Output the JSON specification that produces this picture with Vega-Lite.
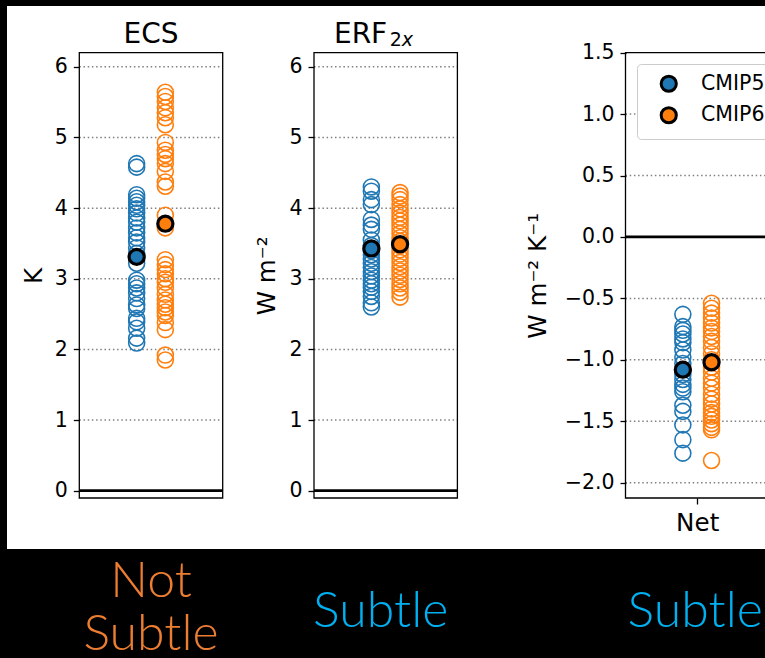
{
  "$schema": "https://vega.github.io/schema/vega-lite/v6.json",
  "width": 758,
  "height": 543,
  "autosize": {"type": "none"},
  "padding": {"left": 7, "top": 6, "right": 0, "bottom": 109},
  "background": "black",
  "config": {
    "view": {"fill": "white", "stroke": null},
    "axis": {
      "labelFont": "DejaVu Sans", "titleFont": "DejaVu Sans", "labelColor": "black", "titleColor": "black",
      "tickColor": "black", "titleFontWeight": "normal", "labelFlush": false, "labelOverlap": false, "labelBound": false
    },
    "legend": {"labelFont": "DejaVu Sans"}
  },
  "datasets": {
    "gridK": [{"tick": 1}, {"tick": 2}, {"tick": 3}, {"tick": 4}, {"tick": 5}, {"tick": 6}],
    "gridNet": [{"tick": -2}, {"tick": -1.5}, {"tick": -1}, {"tick": -0.5}, {"tick": 0.5}, {"tick": 1}],
    "means": [
      {"var": "ECS", "model": "CMIP5", "value": 3.31},
      {"var": "ECS", "model": "CMIP6", "value": 3.78},
      {"var": "ERF", "model": "CMIP5", "value": 3.43},
      {"var": "ERF", "model": "CMIP6", "value": 3.49},
      {"var": "Net", "model": "CMIP5", "value": -1.08},
      {"var": "Net", "model": "CMIP6", "value": -1.02}
    ],
    "models": [
      {"var": "ECS", "model": "CMIP5", "value": 4.63}, {"var": "ECS", "model": "CMIP5", "value": 4.58},
      {"var": "ECS", "model": "CMIP5", "value": 4.19}, {"var": "ECS", "model": "CMIP5", "value": 4.14},
      {"var": "ECS", "model": "CMIP5", "value": 4.09}, {"var": "ECS", "model": "CMIP5", "value": 4.04},
      {"var": "ECS", "model": "CMIP5", "value": 3.99}, {"var": "ECS", "model": "CMIP5", "value": 3.93},
      {"var": "ECS", "model": "CMIP5", "value": 3.86}, {"var": "ECS", "model": "CMIP5", "value": 3.80},
      {"var": "ECS", "model": "CMIP5", "value": 3.72}, {"var": "ECS", "model": "CMIP5", "value": 3.65},
      {"var": "ECS", "model": "CMIP5", "value": 3.58}, {"var": "ECS", "model": "CMIP5", "value": 3.52},
      {"var": "ECS", "model": "CMIP5", "value": 3.44}, {"var": "ECS", "model": "CMIP5", "value": 3.36},
      {"var": "ECS", "model": "CMIP5", "value": 3.22}, {"var": "ECS", "model": "CMIP5", "value": 2.98},
      {"var": "ECS", "model": "CMIP5", "value": 2.93}, {"var": "ECS", "model": "CMIP5", "value": 2.87},
      {"var": "ECS", "model": "CMIP5", "value": 2.80}, {"var": "ECS", "model": "CMIP5", "value": 2.72},
      {"var": "ECS", "model": "CMIP5", "value": 2.63}, {"var": "ECS", "model": "CMIP5", "value": 2.58},
      {"var": "ECS", "model": "CMIP5", "value": 2.44}, {"var": "ECS", "model": "CMIP5", "value": 2.39},
      {"var": "ECS", "model": "CMIP5", "value": 2.30}, {"var": "ECS", "model": "CMIP5", "value": 2.16},
      {"var": "ECS", "model": "CMIP5", "value": 2.09},
      {"var": "ECS", "model": "CMIP6", "value": 5.64}, {"var": "ECS", "model": "CMIP6", "value": 5.58},
      {"var": "ECS", "model": "CMIP6", "value": 5.51}, {"var": "ECS", "model": "CMIP6", "value": 5.42},
      {"var": "ECS", "model": "CMIP6", "value": 5.35}, {"var": "ECS", "model": "CMIP6", "value": 5.28},
      {"var": "ECS", "model": "CMIP6", "value": 5.18}, {"var": "ECS", "model": "CMIP6", "value": 4.93},
      {"var": "ECS", "model": "CMIP6", "value": 4.82}, {"var": "ECS", "model": "CMIP6", "value": 4.76},
      {"var": "ECS", "model": "CMIP6", "value": 4.70}, {"var": "ECS", "model": "CMIP6", "value": 4.63},
      {"var": "ECS", "model": "CMIP6", "value": 4.52}, {"var": "ECS", "model": "CMIP6", "value": 4.37},
      {"var": "ECS", "model": "CMIP6", "value": 4.31}, {"var": "ECS", "model": "CMIP6", "value": 3.90},
      {"var": "ECS", "model": "CMIP6", "value": 3.72}, {"var": "ECS", "model": "CMIP6", "value": 3.27},
      {"var": "ECS", "model": "CMIP6", "value": 3.20}, {"var": "ECS", "model": "CMIP6", "value": 3.13},
      {"var": "ECS", "model": "CMIP6", "value": 3.07}, {"var": "ECS", "model": "CMIP6", "value": 3.00},
      {"var": "ECS", "model": "CMIP6", "value": 2.95}, {"var": "ECS", "model": "CMIP6", "value": 2.87},
      {"var": "ECS", "model": "CMIP6", "value": 2.78}, {"var": "ECS", "model": "CMIP6", "value": 2.70},
      {"var": "ECS", "model": "CMIP6", "value": 2.64}, {"var": "ECS", "model": "CMIP6", "value": 2.59},
      {"var": "ECS", "model": "CMIP6", "value": 2.53}, {"var": "ECS", "model": "CMIP6", "value": 2.48},
      {"var": "ECS", "model": "CMIP6", "value": 2.38}, {"var": "ECS", "model": "CMIP6", "value": 2.28},
      {"var": "ECS", "model": "CMIP6", "value": 1.92}, {"var": "ECS", "model": "CMIP6", "value": 1.85},
      {"var": "ERF", "model": "CMIP5", "value": 4.30}, {"var": "ERF", "model": "CMIP5", "value": 4.24},
      {"var": "ERF", "model": "CMIP5", "value": 4.12}, {"var": "ERF", "model": "CMIP5", "value": 4.05},
      {"var": "ERF", "model": "CMIP5", "value": 3.84}, {"var": "ERF", "model": "CMIP5", "value": 3.76},
      {"var": "ERF", "model": "CMIP5", "value": 3.70}, {"var": "ERF", "model": "CMIP5", "value": 3.55},
      {"var": "ERF", "model": "CMIP5", "value": 3.47}, {"var": "ERF", "model": "CMIP5", "value": 3.40},
      {"var": "ERF", "model": "CMIP5", "value": 3.34}, {"var": "ERF", "model": "CMIP5", "value": 3.28},
      {"var": "ERF", "model": "CMIP5", "value": 3.22}, {"var": "ERF", "model": "CMIP5", "value": 3.16},
      {"var": "ERF", "model": "CMIP5", "value": 3.10}, {"var": "ERF", "model": "CMIP5", "value": 3.04},
      {"var": "ERF", "model": "CMIP5", "value": 2.98}, {"var": "ERF", "model": "CMIP5", "value": 2.93},
      {"var": "ERF", "model": "CMIP5", "value": 2.88}, {"var": "ERF", "model": "CMIP5", "value": 2.82},
      {"var": "ERF", "model": "CMIP5", "value": 2.75}, {"var": "ERF", "model": "CMIP5", "value": 2.66},
      {"var": "ERF", "model": "CMIP5", "value": 2.60},
      {"var": "ERF", "model": "CMIP6", "value": 4.22}, {"var": "ERF", "model": "CMIP6", "value": 4.17},
      {"var": "ERF", "model": "CMIP6", "value": 4.12}, {"var": "ERF", "model": "CMIP6", "value": 4.05},
      {"var": "ERF", "model": "CMIP6", "value": 3.99}, {"var": "ERF", "model": "CMIP6", "value": 3.93},
      {"var": "ERF", "model": "CMIP6", "value": 3.87}, {"var": "ERF", "model": "CMIP6", "value": 3.82},
      {"var": "ERF", "model": "CMIP6", "value": 3.76}, {"var": "ERF", "model": "CMIP6", "value": 3.70},
      {"var": "ERF", "model": "CMIP6", "value": 3.64}, {"var": "ERF", "model": "CMIP6", "value": 3.58},
      {"var": "ERF", "model": "CMIP6", "value": 3.53}, {"var": "ERF", "model": "CMIP6", "value": 3.47},
      {"var": "ERF", "model": "CMIP6", "value": 3.41}, {"var": "ERF", "model": "CMIP6", "value": 3.35},
      {"var": "ERF", "model": "CMIP6", "value": 3.29}, {"var": "ERF", "model": "CMIP6", "value": 3.23},
      {"var": "ERF", "model": "CMIP6", "value": 3.17}, {"var": "ERF", "model": "CMIP6", "value": 3.11},
      {"var": "ERF", "model": "CMIP6", "value": 3.05}, {"var": "ERF", "model": "CMIP6", "value": 2.99},
      {"var": "ERF", "model": "CMIP6", "value": 2.93}, {"var": "ERF", "model": "CMIP6", "value": 2.87},
      {"var": "ERF", "model": "CMIP6", "value": 2.81}, {"var": "ERF", "model": "CMIP6", "value": 2.74},
      {"var": "Net", "model": "CMIP5", "value": -0.63}, {"var": "Net", "model": "CMIP5", "value": -0.73},
      {"var": "Net", "model": "CMIP5", "value": -0.76}, {"var": "Net", "model": "CMIP5", "value": -0.79},
      {"var": "Net", "model": "CMIP5", "value": -0.83}, {"var": "Net", "model": "CMIP5", "value": -0.86},
      {"var": "Net", "model": "CMIP5", "value": -0.92}, {"var": "Net", "model": "CMIP5", "value": -0.98},
      {"var": "Net", "model": "CMIP5", "value": -1.03}, {"var": "Net", "model": "CMIP5", "value": -1.08},
      {"var": "Net", "model": "CMIP5", "value": -1.12}, {"var": "Net", "model": "CMIP5", "value": -1.16},
      {"var": "Net", "model": "CMIP5", "value": -1.20}, {"var": "Net", "model": "CMIP5", "value": -1.23},
      {"var": "Net", "model": "CMIP5", "value": -1.26}, {"var": "Net", "model": "CMIP5", "value": -1.37},
      {"var": "Net", "model": "CMIP5", "value": -1.42}, {"var": "Net", "model": "CMIP5", "value": -1.53},
      {"var": "Net", "model": "CMIP5", "value": -1.65}, {"var": "Net", "model": "CMIP5", "value": -1.76},
      {"var": "Net", "model": "CMIP6", "value": -0.54}, {"var": "Net", "model": "CMIP6", "value": -0.58},
      {"var": "Net", "model": "CMIP6", "value": -0.62}, {"var": "Net", "model": "CMIP6", "value": -0.66},
      {"var": "Net", "model": "CMIP6", "value": -0.70}, {"var": "Net", "model": "CMIP6", "value": -0.74},
      {"var": "Net", "model": "CMIP6", "value": -0.77}, {"var": "Net", "model": "CMIP6", "value": -0.81},
      {"var": "Net", "model": "CMIP6", "value": -0.85}, {"var": "Net", "model": "CMIP6", "value": -0.90},
      {"var": "Net", "model": "CMIP6", "value": -0.95}, {"var": "Net", "model": "CMIP6", "value": -1.00},
      {"var": "Net", "model": "CMIP6", "value": -1.06}, {"var": "Net", "model": "CMIP6", "value": -1.10},
      {"var": "Net", "model": "CMIP6", "value": -1.15}, {"var": "Net", "model": "CMIP6", "value": -1.19},
      {"var": "Net", "model": "CMIP6", "value": -1.23}, {"var": "Net", "model": "CMIP6", "value": -1.28},
      {"var": "Net", "model": "CMIP6", "value": -1.32}, {"var": "Net", "model": "CMIP6", "value": -1.36},
      {"var": "Net", "model": "CMIP6", "value": -1.40}, {"var": "Net", "model": "CMIP6", "value": -1.43},
      {"var": "Net", "model": "CMIP6", "value": -1.46}, {"var": "Net", "model": "CMIP6", "value": -1.49},
      {"var": "Net", "model": "CMIP6", "value": -1.52}, {"var": "Net", "model": "CMIP6", "value": -1.55},
      {"var": "Net", "model": "CMIP6", "value": -1.57}, {"var": "Net", "model": "CMIP6", "value": -1.82}
    ]
  },
  "resolve": {
    "scale": {"x": "independent", "y": "independent"},
    "axis": {"x": "independent", "y": "independent"}
  },
  "layer": [
    {
      "layer": [
        {
          "data": {"name": "gridK"},
          "mark": {"type": "rule", "stroke": "#808080", "strokeWidth": 1.5, "strokeDash": [1.5, 2.7]},
          "encoding": {
            "y": {"field": "tick", "type": "quantitative",
              "scale": {"domain": [-0.103, 6.2], "range": [492, 46.7], "nice": false, "zero": false},
              "axis": {"orient": "left", "values": [0, 1, 2, 3, 4, 5, 6], "format": "d", "offset": -72.3, "domain": false, "grid": false,
                "tickSize": 6, "tickWidth": 1.3, "labelFontSize": 20.5, "labelPadding": 6,
                "title": "K", "titleFontSize": 24.6, "titlePadding": 0, "minExtent": 33, "maxExtent": 33}},
            "x": {"datum": -0.5, "scale": {"domain": [-0.5, 0.5], "range": [72.3, 215.7], "nice": false, "zero": false}, "axis": null},
            "x2": {"datum": 0.5}
          }
        },
        {
          "data": {"values": [{}]},
          "mark": {"type": "rule", "stroke": "black", "strokeWidth": 2.7},
          "encoding": {
            "y": {"datum": 0},
            "x": {"datum": -0.5, "axis": null},
            "x2": {"datum": 0.5}
          }
        },
        {
          "data": {"name": "models"},
          "transform": [{"filter": "datum.var === 'ECS' && datum.model === 'CMIP5'"}],
          "mark": {"type": "point", "shape": "circle", "filled": false, "size": 255, "stroke": "#1f77b4", "strokeWidth": 1.6, "opacity": 1},
          "encoding": {
            "x": {"datum": -0.1, "axis": null},
            "y": {"field": "value", "type": "quantitative"}
          }
        },
        {
          "data": {"name": "models"},
          "transform": [{"filter": "datum.var === 'ECS' && datum.model === 'CMIP6'"}],
          "mark": {"type": "point", "shape": "circle", "filled": false, "size": 255, "stroke": "#ff7f0e", "strokeWidth": 1.6, "opacity": 1},
          "encoding": {
            "x": {"datum": 0.1, "axis": null},
            "y": {"field": "value", "type": "quantitative"}
          }
        },
        {
          "data": {"name": "means"},
          "transform": [{"filter": "datum.var === 'ECS' && datum.model === 'CMIP5'"}],
          "mark": {"type": "point", "shape": "circle", "filled": true, "size": 230, "stroke": "black", "strokeWidth": 3.2, "opacity": 1},
          "encoding": {
            "x": {"datum": -0.1, "axis": null},
            "y": {"field": "value", "type": "quantitative"},
            "fill": {"field": "model", "type": "nominal", "scale": {"domain": ["CMIP5", "CMIP6"], "range": ["#1f77b4", "#ff7f0e"]}}
          }
        },
        {
          "data": {"name": "means"},
          "transform": [{"filter": "datum.var === 'ECS' && datum.model === 'CMIP6'"}],
          "mark": {"type": "point", "shape": "circle", "filled": true, "size": 230, "stroke": "black", "strokeWidth": 3.2, "opacity": 1},
          "encoding": {
            "x": {"datum": 0.1, "axis": null},
            "y": {"field": "value", "type": "quantitative"},
            "fill": {"field": "model", "type": "nominal", "scale": {"domain": ["CMIP5", "CMIP6"], "range": ["#1f77b4", "#ff7f0e"]}}
          }
        },
        {
          "data": {"values": [{}]},
          "mark": {"type": "rect", "fill": null, "stroke": "black", "strokeWidth": 1.3},
          "encoding": {
            "x": {"datum": -0.5, "axis": null}, "x2": {"datum": 0.5},
            "y": {"datum": 6.2}, "y2": {"datum": -0.103}
          }
        },
        {
          "data": {"values": [{}]},
          "mark": {"type": "text", "text": "ECS", "font": "DejaVu Sans", "fontSize": 28, "align": "center", "baseline": "alphabetic", "color": "black"},
          "encoding": {"x": {"datum": 0, "axis": null}, "y": {"datum": 6.342}}
        },
        {
          "data": {"values": [{}]},
          "mark": {"type": "text", "text": ["Not", "Subtle"], "font": "Lato", "fontWeight": 300, "fontSize": 50, "lineHeight": 53, "align": "center", "baseline": "alphabetic", "color": "#ED7D31"},
          "encoding": {"x": {"datum": 0, "axis": null}, "y": {"datum": -1.504}}
        }
      ]
    },
    {
      "layer": [
        {
          "data": {"name": "gridK"},
          "mark": {"type": "rule", "stroke": "#808080", "strokeWidth": 1.5, "strokeDash": [1.5, 2.7]},
          "encoding": {
            "y": {"field": "tick", "type": "quantitative",
              "scale": {"domain": [-0.103, 6.2], "range": [492, 46.7], "nice": false, "zero": false},
              "axis": {"orient": "left", "values": [0, 1, 2, 3, 4, 5, 6], "format": "d", "offset": -307, "domain": false, "grid": false,
                "tickSize": 6, "tickWidth": 1.3, "labelFontSize": 20.5, "labelPadding": 6,
                "title": "W m⁻²", "titleFontSize": 24.6, "titlePadding": 0, "minExtent": 35, "maxExtent": 35}},
            "x": {"datum": -0.5, "scale": {"domain": [-0.5, 0.5], "range": [307, 450.4], "nice": false, "zero": false}, "axis": null},
            "x2": {"datum": 0.5}
          }
        },
        {
          "data": {"values": [{}]},
          "mark": {"type": "rule", "stroke": "black", "strokeWidth": 2.7},
          "encoding": {
            "y": {"datum": 0},
            "x": {"datum": -0.5, "axis": null},
            "x2": {"datum": 0.5}
          }
        },
        {
          "data": {"name": "models"},
          "transform": [{"filter": "datum.var === 'ERF' && datum.model === 'CMIP5'"}],
          "mark": {"type": "point", "shape": "circle", "filled": false, "size": 255, "stroke": "#1f77b4", "strokeWidth": 1.6, "opacity": 1},
          "encoding": {
            "x": {"datum": -0.1, "axis": null},
            "y": {"field": "value", "type": "quantitative"}
          }
        },
        {
          "data": {"name": "models"},
          "transform": [{"filter": "datum.var === 'ERF' && datum.model === 'CMIP6'"}],
          "mark": {"type": "point", "shape": "circle", "filled": false, "size": 255, "stroke": "#ff7f0e", "strokeWidth": 1.6, "opacity": 1},
          "encoding": {
            "x": {"datum": 0.1, "axis": null},
            "y": {"field": "value", "type": "quantitative"}
          }
        },
        {
          "data": {"name": "means"},
          "transform": [{"filter": "datum.var === 'ERF' && datum.model === 'CMIP5'"}],
          "mark": {"type": "point", "shape": "circle", "filled": true, "size": 230, "stroke": "black", "strokeWidth": 3.2, "opacity": 1},
          "encoding": {
            "x": {"datum": -0.1, "axis": null},
            "y": {"field": "value", "type": "quantitative"},
            "fill": {"field": "model", "type": "nominal", "scale": {"domain": ["CMIP5", "CMIP6"], "range": ["#1f77b4", "#ff7f0e"]}}
          }
        },
        {
          "data": {"name": "means"},
          "transform": [{"filter": "datum.var === 'ERF' && datum.model === 'CMIP6'"}],
          "mark": {"type": "point", "shape": "circle", "filled": true, "size": 230, "stroke": "black", "strokeWidth": 3.2, "opacity": 1},
          "encoding": {
            "x": {"datum": 0.1, "axis": null},
            "y": {"field": "value", "type": "quantitative"},
            "fill": {"field": "model", "type": "nominal", "scale": {"domain": ["CMIP5", "CMIP6"], "range": ["#1f77b4", "#ff7f0e"]}}
          }
        },
        {
          "data": {"values": [{}]},
          "mark": {"type": "rect", "fill": null, "stroke": "black", "strokeWidth": 1.3},
          "encoding": {
            "x": {"datum": -0.5, "axis": null}, "x2": {"datum": 0.5},
            "y": {"datum": 6.2}, "y2": {"datum": -0.103}
          }
        },
        {
          "data": {"values": [{}]},
          "mark": {"type": "text", "text": "ERF", "font": "DejaVu Sans", "fontSize": 28, "align": "right", "dx": 1.5, "baseline": "alphabetic", "color": "black"},
          "encoding": {"x": {"datum": 0, "axis": null}, "y": {"datum": 6.342}}
        },
        {
          "data": {"values": [{}]},
          "mark": {"type": "text", "text": "2", "font": "DejaVu Sans", "fontSize": 19, "align": "left", "dx": 4, "baseline": "alphabetic", "color": "black"},
          "encoding": {"x": {"datum": 0, "axis": null}, "y": {"datum": 6.29}}
        },
        {
          "data": {"values": [{}]},
          "mark": {"type": "text", "text": "x", "font": "DejaVu Sans", "fontStyle": "italic", "fontSize": 19, "align": "left", "dx": 16, "baseline": "alphabetic", "color": "black"},
          "encoding": {"x": {"datum": 0, "axis": null}, "y": {"datum": 6.29}}
        },
        {
          "data": {"values": [{}]},
          "mark": {"type": "text", "text": "Subtle", "font": "Lato", "fontWeight": 300, "fontSize": 50, "align": "center", "dx": -5, "baseline": "alphabetic", "color": "#00B0F0"},
          "encoding": {"x": {"datum": 0, "axis": null}, "y": {"datum": -1.929}}
        }
      ]
    },
    {
      "layer": [
        {
          "data": {"name": "gridNet"},
          "mark": {"type": "rule", "stroke": "#808080", "strokeWidth": 1.5, "strokeDash": [1.5, 2.7]},
          "encoding": {
            "y": {"field": "tick", "type": "quantitative",
              "scale": {"domain": [-2.125, 1.5], "range": [492, 46.7], "nice": false, "zero": false},
              "axis": {"orient": "left", "values": [-2, -1.5, -1, -0.5, 0, 0.5, 1, 1.5], "format": ".1f", "offset": -619, "domain": false, "grid": false,
                "tickSize": 6, "tickWidth": 1.3, "labelFontSize": 20.5, "labelPadding": 6,
                "title": "W m⁻² K⁻¹", "titleFontSize": 24.6, "titlePadding": 0, "minExtent": 76, "maxExtent": 76}},
            "x": {"datum": -0.5,
              "scale": {"domain": [-0.5, 0.5], "range": [618.5, 761.9], "nice": false, "zero": false},
              "axis": {"orient": "bottom", "values": [0], "labelExpr": "'Net'", "offset": -51, "domain": false, "grid": false,
                "tickSize": 6, "tickWidth": 1.3, "labelFontSize": 24.6, "labelPadding": 7, "title": null}},
            "x2": {"datum": 0.5}
          }
        },
        {
          "data": {"values": [{}]},
          "mark": {"type": "rule", "stroke": "black", "strokeWidth": 2.7},
          "encoding": {
            "y": {"datum": 0},
            "x": {"datum": -0.5},
            "x2": {"datum": 0.5}
          }
        },
        {
          "data": {"name": "models"},
          "transform": [{"filter": "datum.var === 'Net' && datum.model === 'CMIP5'"}],
          "mark": {"type": "point", "shape": "circle", "filled": false, "size": 255, "stroke": "#1f77b4", "strokeWidth": 1.6, "opacity": 1},
          "encoding": {
            "x": {"datum": -0.1},
            "y": {"field": "value", "type": "quantitative"}
          }
        },
        {
          "data": {"name": "models"},
          "transform": [{"filter": "datum.var === 'Net' && datum.model === 'CMIP6'"}],
          "mark": {"type": "point", "shape": "circle", "filled": false, "size": 255, "stroke": "#ff7f0e", "strokeWidth": 1.6, "opacity": 1},
          "encoding": {
            "x": {"datum": 0.1},
            "y": {"field": "value", "type": "quantitative"}
          }
        },
        {
          "data": {"name": "means"},
          "transform": [{"filter": "datum.var === 'Net' && datum.model === 'CMIP5'"}],
          "mark": {"type": "point", "shape": "circle", "filled": true, "size": 230, "stroke": "black", "strokeWidth": 3.2, "opacity": 1},
          "encoding": {
            "x": {"datum": -0.1},
            "y": {"field": "value", "type": "quantitative"},
            "fill": {"field": "model", "type": "nominal", "scale": {"domain": ["CMIP5", "CMIP6"], "range": ["#1f77b4", "#ff7f0e"]},
              "legend": {"title": null, "orient": "none", "legendX": 630, "legendY": 58, "direction": "vertical",
                "padding": 9.5, "fillColor": "white", "strokeColor": "#cccccc", "cornerRadius": 4,
                "symbolType": "circle", "symbolSize": 230, "symbolStrokeColor": "black", "symbolStrokeWidth": 3, "symbolOpacity": 1,
                "symbolOffset": 12, "labelOffset": 22, "labelFontSize": 20.5, "labelColor": "black", "rowPadding": 3.5}}
          }
        },
        {
          "data": {"name": "means"},
          "transform": [{"filter": "datum.var === 'Net' && datum.model === 'CMIP6'"}],
          "mark": {"type": "point", "shape": "circle", "filled": true, "size": 230, "stroke": "black", "strokeWidth": 3.2, "opacity": 1},
          "encoding": {
            "x": {"datum": 0.1},
            "y": {"field": "value", "type": "quantitative"},
            "fill": {"field": "model", "type": "nominal", "scale": {"domain": ["CMIP5", "CMIP6"], "range": ["#1f77b4", "#ff7f0e"]}}
          }
        },
        {
          "data": {"values": [{}]},
          "mark": {"type": "rect", "fill": null, "stroke": "black", "strokeWidth": 1.3},
          "encoding": {
            "x": {"datum": -0.5}, "x2": {"datum": 0.5},
            "y": {"datum": 1.5}, "y2": {"datum": -2.125}
          }
        },
        {
          "data": {"values": [{}]},
          "mark": {"type": "text", "text": "Subtle", "font": "Lato", "fontWeight": 300, "fontSize": 50, "align": "center", "dx": -2, "baseline": "alphabetic", "color": "#00B0F0"},
          "encoding": {"x": {"datum": 0}, "y": {"datum": -3.172}}
        }
      ]
    }
  ]
}
